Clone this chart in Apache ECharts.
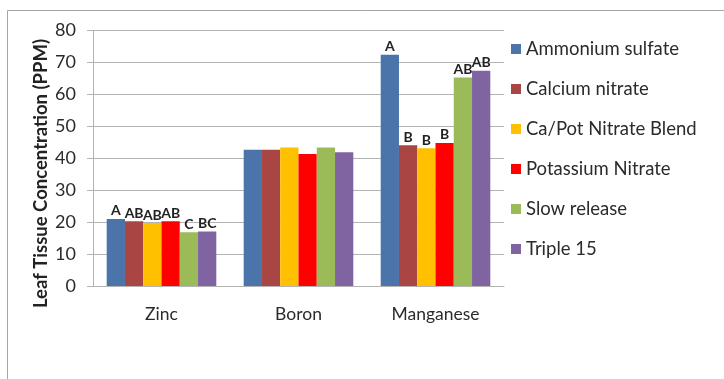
<!DOCTYPE html>
<html>
<head>
<meta charset="utf-8">
<style>
  html, body { margin: 0; padding: 0; background: #ffffff; }
  #chart { width: 724px; height: 379px; }
</style>
<script src="https://cdn.jsdelivr.net/npm/echarts@6/dist/echarts.min.js"></script>
</head>
<body>
<div id="chart"></div>
<script>
// Nutrient categories along the x axis
const nutrients = ['Zinc', 'Boron', 'Manganese'];

// Fertilizer treatments (one series each)
const treatments = ['Ammonium sulfate', 'Calcium nitrate', 'Ca/Pot Nitrate Blend',
                    'Potassium Nitrate', 'Slow release', 'Triple 15'];

// Leaf tissue concentration (PPM) per treatment: [Zinc, Boron, Manganese]
const ammoniumSulfate    = [21.0, 42.7, 72.4];
const calciumNitrate     = [20.3, 42.7, 44.1];
const caPotNitrateBlend  = [19.7, 43.4, 43.1];
const potassiumNitrate   = [20.3, 41.3, 44.8];
const slowRelease        = [16.8, 43.4, 65.3];
const triple15           = [17.1, 41.9, 67.4];

// Mean separation letters per treatment: [Zinc, Boron, Manganese]
const ammoniumSulfateSig   = ['A',  '', 'A'];
const calciumNitrateSig    = ['AB', '', 'B'];
const caPotNitrateBlendSig = ['AB', '', 'B'];
const potassiumNitrateSig  = ['AB', '', 'B'];
const slowReleaseSig       = ['C',  '', 'AB'];
const triple15Sig          = ['BC', '', 'AB'];

// Y axis ticks
const yTicks = [0, 10, 20, 30, 40, 50, 60, 70, 80];

const seriesValues = [ammoniumSulfate, calciumNitrate, caPotNitrateBlend,
                      potassiumNitrate, slowRelease, triple15];
const seriesLetters = [ammoniumSulfateSig, calciumNitrateSig, caPotNitrateBlendSig,
                       potassiumNitrateSig, slowReleaseSig, triple15Sig];
const colors = ['#4a74aa', '#a94643', '#ffc000', '#ff0000', '#9bbb59', '#8064a2'];

const FONT = 'Lato, "Open Sans", sans-serif';
const TEXT = '#2b2b2b';
const GRID = '#b3b3b3';

const chart = echarts.init(document.getElementById('chart'), null, { renderer: 'canvas' });

const series = treatments.map((name, i) => ({
  name: name,
  type: 'bar',
  barGap: '0%',
  barCategoryGap: '20%',
  itemStyle: { color: colors[i] },
  data: seriesValues[i],
  label: {
    show: true,
    position: 'top',
    distance: 1,
    fontFamily: FONT,
    fontWeight: 'bold',
    fontSize: 14,
    color: '#222222',
    formatter: p => seriesLetters[i][p.dataIndex]
  }
}));

chart.setOption({
  animation: false,
  backgroundColor: '#ffffff',
  color: colors,
  textStyle: { fontFamily: FONT },
  graphic: [
    {
      type: 'rect',
      shape: { x: 7.5, y: 10.5, width: 800, height: 400 },
      style: { fill: 'none', stroke: '#a6a6a6', lineWidth: 1 },
      silent: true
    },
    {
      type: 'text',
      x: 41,
      y: 173.5,
      rotation: Math.PI / 2,
      style: {
        text: 'Leaf Tissue Concentration (PPM)',
        fontFamily: FONT,
        fontWeight: 'bold',
        fontSize: 18.5,
        fill: '#222222',
        align: 'center',
        verticalAlign: 'middle'
      }
    }
  ],
  legend: {
    data: treatments,
    orient: 'vertical',
    left: 506,
    top: 34,
    itemWidth: 10,
    itemHeight: 10,
    itemGap: 20,
    icon: 'rect',
    textStyle: { fontFamily: FONT, fontSize: 18.5, color: TEXT, lineHeight: 20 }
  },
  grid: { left: 93, right: 220, top: 30.5, bottom: 93, containLabel: false },
  xAxis: {
    type: 'category',
    data: nutrients,
    axisLine: { lineStyle: { color: GRID, width: 1 } },
    axisTick: { show: false },
    axisLabel: { fontFamily: FONT, fontSize: 17.5, color: TEXT, margin: 19 }
  },
  yAxis: {
    type: 'value',
    min: yTicks[0],
    max: yTicks[yTicks.length - 1],
    interval: yTicks[1] - yTicks[0],
    axisLine: { show: true, lineStyle: { color: GRID, width: 1 } },
    axisTick: { show: true, length: 6, lineStyle: { color: GRID } },
    splitLine: { show: true, lineStyle: { color: GRID, width: 1 } },
    axisLabel: { fontFamily: FONT, fontSize: 18, color: TEXT, margin: 17 }
  },
  series: series
});
</script>
</body>
</html>
